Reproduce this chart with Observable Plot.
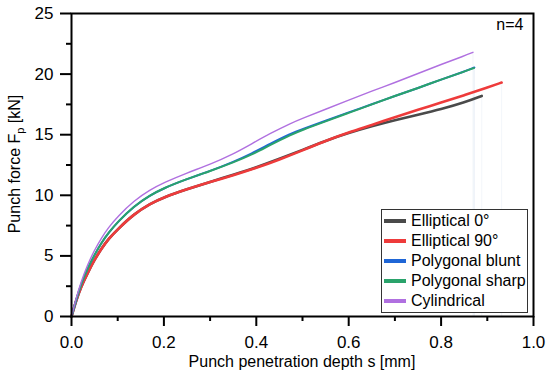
<!DOCTYPE html>
<html>
<head>
<meta charset="utf-8">
<script src="https://cdn.jsdelivr.net/npm/d3@7"></script>
<script src="https://cdn.jsdelivr.net/npm/@observablehq/plot@0.6"></script>
<style>
  html, body { margin: 0; padding: 0; background: #fff; }
  #wrap { position: relative; width: 550px; height: 372px; font-family: "Liberation Sans", Arial, sans-serif; }
  #legend { position: absolute; left: 381px; top: 209px; width: 145px; height: 101px; border: 1px solid #333; background: #fff; box-sizing: content-box; padding-top: 1px; }
  .row { display: flex; align-items: center; height: 20px; font-size: 16px; color: #000; white-space: nowrap; }
  .sw { width: 22px; height: 4px; margin-left: 2px; margin-right: 5px; }
</style>
</head>
<body>
<div id="wrap"></div>
<script>
// ---- data ----
const seriesNames = ["Elliptical 0°", "Elliptical 90°", "Polygonal blunt", "Polygonal sharp", "Cylindrical"];
const seriesColors = ["#4a4a4a", "#ee3b3b", "#1f66d6", "#2aa36b", "#b070e0"];
const seriesWidths = [2.6, 2.6, 2, 2, 1.4];

const sE0  = [0, 0.01, 0.02, 0.035, 0.05, 0.065, 0.08, 0.1, 0.135, 0.17, 0.2, 0.25, 0.3, 0.35, 0.4, 0.45, 0.5, 0.55, 0.6, 0.65, 0.7, 0.75, 0.8, 0.85, 0.888];
const fE0  = [0, 1.3, 2.4, 3.6, 4.7, 5.6, 6.4, 7.2, 8.45, 9.3, 9.85, 10.5, 11.1, 11.7, 12.3, 13.0, 13.75, 14.5, 15.15, 15.7, 16.2, 16.65, 17.1, 17.65, 18.2];

const sE90 = [0, 0.01, 0.02, 0.035, 0.05, 0.065, 0.08, 0.1, 0.135, 0.17, 0.2, 0.25, 0.3, 0.35, 0.4, 0.45, 0.5, 0.55, 0.6, 0.65, 0.7, 0.75, 0.8, 0.85, 0.9, 0.931];
const fE90 = [0, 1.3, 2.4, 3.6, 4.7, 5.6, 6.4, 7.2, 8.45, 9.3, 9.85, 10.5, 11.1, 11.65, 12.25, 12.95, 13.7, 14.5, 15.2, 15.8, 16.45, 17.05, 17.65, 18.25, 18.9, 19.3];

const sPB  = [0, 0.01, 0.02, 0.035, 0.05, 0.065, 0.08, 0.1, 0.135, 0.17, 0.2, 0.25, 0.3, 0.35, 0.39, 0.43, 0.475, 0.5, 0.55, 0.6, 0.65, 0.7, 0.75, 0.8, 0.85, 0.872];
const fPB  = [0, 1.3, 2.6, 4.0, 5.1, 6.1, 6.9, 7.8, 9.1, 10.0, 10.6, 11.35, 12.0, 12.75, 13.45, 14.25, 15.1, 15.45, 16.15, 16.85, 17.5, 18.2, 18.85, 19.55, 20.2, 20.55];

const sPS  = [0, 0.01, 0.02, 0.035, 0.05, 0.065, 0.08, 0.1, 0.135, 0.17, 0.2, 0.25, 0.3, 0.35, 0.39, 0.43, 0.475, 0.5, 0.55, 0.6, 0.65, 0.7, 0.75, 0.8, 0.85, 0.871];
const fPS  = [0, 1.4, 2.6, 4.0, 5.1, 6.1, 6.9, 7.8, 9.1, 10.0, 10.6, 11.35, 12.0, 12.7, 13.35, 14.15, 15.0, 15.4, 16.1, 16.8, 17.5, 18.2, 18.85, 19.55, 20.2, 20.5];

const sCy  = [0, 0.01, 0.02, 0.035, 0.05, 0.065, 0.08, 0.1, 0.135, 0.17, 0.2, 0.25, 0.3, 0.35, 0.39, 0.43, 0.475, 0.5, 0.55, 0.6, 0.65, 0.7, 0.75, 0.8, 0.85, 0.869];
const fCy  = [0, 1.5, 2.8, 4.3, 5.5, 6.5, 7.35, 8.25, 9.55, 10.45, 11.05, 11.85, 12.55, 13.4, 14.25, 15.1, 15.95, 16.35, 17.1, 17.85, 18.6, 19.3, 20.05, 20.8, 21.5, 21.8];

const xMajor = [0, 0.2, 0.4, 0.6, 0.8, 1.0];
const xMinor = [0.1, 0.3, 0.5, 0.7, 0.9];
const yMajor = [0, 5, 10, 15, 20, 25];
const yMinor = [2.5, 7.5, 12.5, 17.5, 22.5];

// ---- build table ----
const sArr = [sE0, sE90, sPB, sPS, sCy];
const fArr = [fE0, fE90, fPB, fPS, fCy];
const rows = [];
seriesNames.forEach((name, i) => {
  sArr[i].forEach((s, j) => rows.push({series: name, s, F: fArr[i][j]}));
});
const ends = seriesNames.map((name, i) => ({series: name, s: sArr[i][sArr[i].length - 1], F: fArr[i][fArr[i].length - 1]}));

const lineMarks = seriesNames.map((name, i) =>
  Plot.line(rows.filter(d => d.series === name), {
    x: "s", y: "F", stroke: seriesColors[i], strokeWidth: seriesWidths[i], curve: "basis"
  })
);

const plot = Plot.plot({
  width: 550,
  height: 372,
  marginLeft: 71,
  marginRight: 17,
  marginTop: 13,
  marginBottom: 56,
  x: {domain: [0, 1]},
  y: {domain: [0, 25]},
  style: {fontFamily: "'Liberation Sans', Arial, sans-serif", fontSize: "17px", color: "#000", background: "#fff", overflow: "visible"},
  marks: [
    Plot.ruleX(ends, {x: "s", y1: 0, y2: "F", stroke: "#9fb4d8", strokeOpacity: 0.12, strokeWidth: 1}),
    ...lineMarks,
    Plot.frame({stroke: "#000", strokeWidth: 2}),
    Plot.axisX({ticks: xMajor, tickSize: 10, tickPadding: 9, tickFormat: d3.format(".1f"), strokeWidth: 2, label: null}),
    Plot.axisX({ticks: xMinor, tickSize: 5, tickFormat: () => "", strokeWidth: 2, label: null}),
    Plot.axisY({ticks: yMajor, tickSize: 11, tickPadding: 7, tickFormat: d3.format("d"), strokeWidth: 2, label: null}),
    Plot.axisY({ticks: yMinor, tickSize: 5, tickFormat: () => "", strokeWidth: 2, label: null}),
    Plot.text(["n=4"], {frameAnchor: "top-right", text: d => d, textAnchor: "end", lineAnchor: "top", dx: -10, dy: 5, fontSize: 16})
  ]
});

const wrap = document.getElementById("wrap");
wrap.appendChild(plot);

// axis titles
const svg = d3.select(plot);
svg.append("text")
  .attr("x", 302).attr("y", 367)
  .attr("text-anchor", "middle")
  .attr("font-size", 16)
  .attr("fill", "#000")
  .text("Punch penetration depth s [mm]");

const yt = svg.append("text")
  .attr("transform", "translate(20,164) rotate(-90)")
  .attr("text-anchor", "middle")
  .attr("font-size", 16)
  .attr("fill", "#000");
yt.append("tspan").text("Punch force F");
yt.append("tspan").attr("font-size", 11).attr("dy", 4).text("p");
yt.append("tspan").attr("dy", -4).text(" [kN]");

// legend
const legend = document.createElement("div");
legend.id = "legend";
seriesNames.forEach((name, i) => {
  const r = document.createElement("div");
  r.className = "row";
  const sw = document.createElement("span");
  sw.className = "sw";
  sw.style.background = seriesColors[i];
  const t = document.createElement("span");
  t.textContent = name;
  r.appendChild(sw); r.appendChild(t);
  legend.appendChild(r);
});
wrap.appendChild(legend);
</script>
</body>
</html>
